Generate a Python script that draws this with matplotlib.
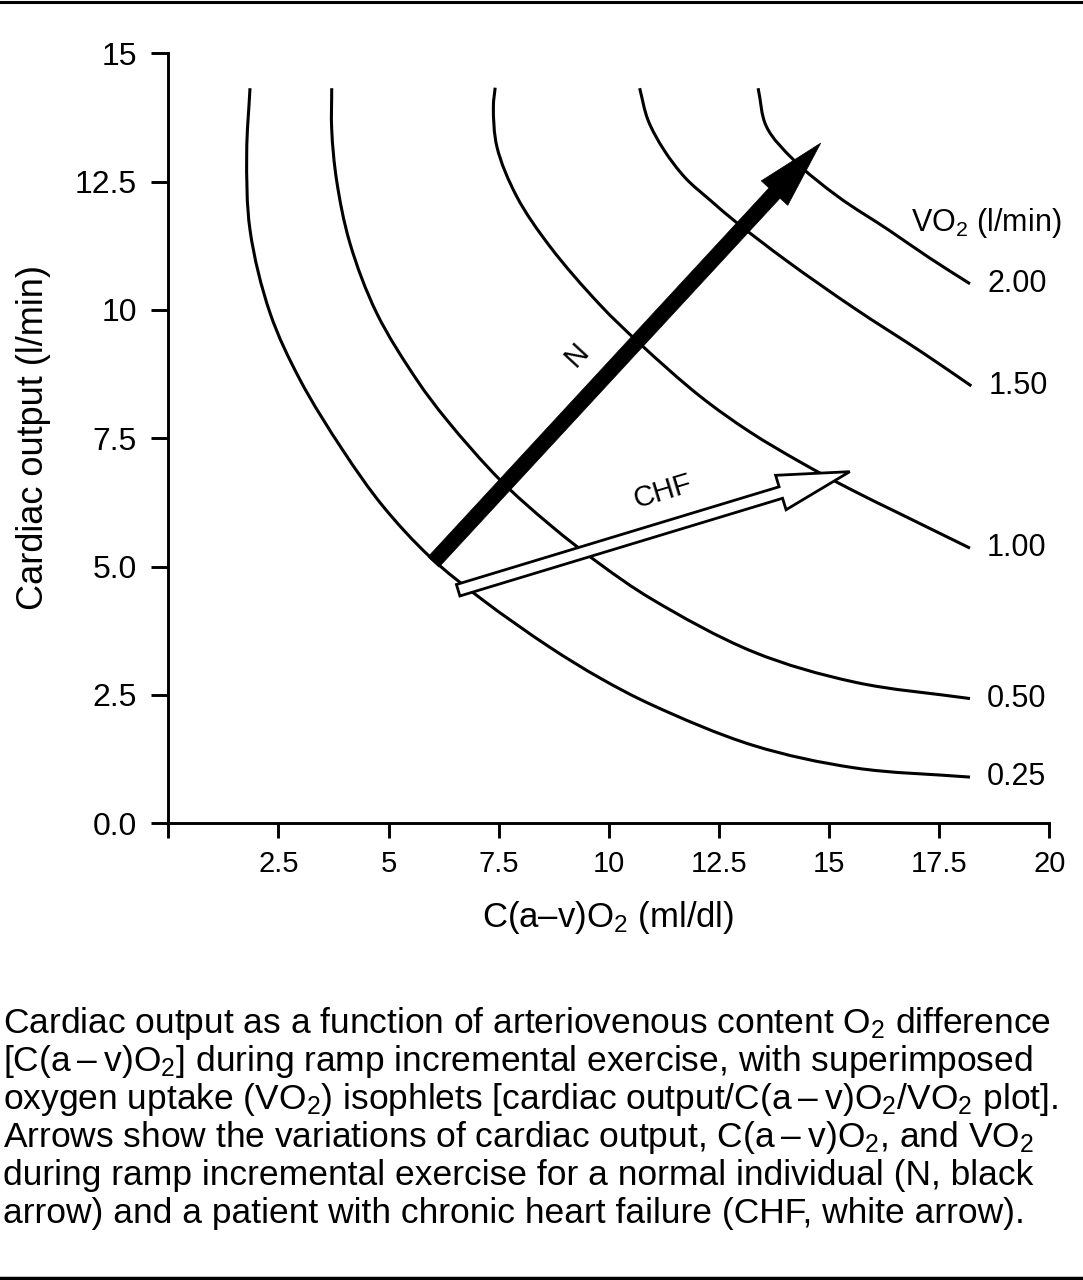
import matplotlib
matplotlib.use("Agg")
import matplotlib.pyplot as plt
import numpy as np
from matplotlib.patches import Polygon, PathPatch
from matplotlib.path import Path
from matplotlib.transforms import IdentityTransform
from matplotlib.lines import Line2D

plt.rcParams['font.family'] = ['Liberation Sans', 'DejaVu Sans']
plt.rcParams['mathtext.fontset'] = 'custom'
plt.rcParams['mathtext.rm'] = 'Liberation Sans'
plt.rcParams['mathtext.it'] = 'Liberation Sans:italic'
plt.rcParams['mathtext.bf'] = 'Liberation Sans:bold'

# ---------------- data ----------------
iso_labels = ["0.25", "0.50", "1.00", "1.50", "2.00"]

iso_025_x = [1.855, 1.78, 1.855, 2.31, 2.99, 3.96, 4.87, 5.94, 7.14, 8.66, 9.80, 10.97, 13.27, 15.58, 18.20]
iso_025_y = [14.32, 13.06, 11.56, 9.94, 8.64, 7.27, 6.18, 5.19, 4.35, 3.43, 2.83, 2.31, 1.52, 1.08, 0.90]

iso_050_x = [3.71, 3.71, 3.82, 4.12, 4.73, 5.64, 6.32, 7.53, 8.67, 9.80, 10.97, 13.28, 15.58, 18.20]
iso_050_y = [14.32, 13.51, 12.53, 11.31, 9.94, 8.64, 7.86, 6.69, 5.81, 5.05, 4.37, 3.34, 2.75, 2.43]

iso_100_x = [7.42, 7.38, 7.46, 7.91, 8.67, 9.80, 10.71, 12.07, 13.21, 14.34, 15.48, 16.61, 18.20]
iso_100_y = [14.33, 13.96, 13.18, 12.21, 11.23, 10.10, 9.34, 8.32, 7.62, 7.04, 6.51, 6.03, 5.36]

iso_150_x = [10.70, 10.89, 11.25, 11.74, 12.30, 12.89, 14.05, 15.58, 17.12, 18.23]
iso_150_y = [14.32, 13.70, 13.12, 12.57, 12.14, 11.71, 10.95, 10.03, 9.17, 8.52]

iso_200_x = [13.39, 13.58, 14.20, 15.20, 16.35, 17.27, 18.20]
iso_200_y = [14.32, 13.57, 12.92, 12.21, 11.56, 11.02, 10.51]

arrow_N_start = [6.02, 5.09]
arrow_N_end = [14.81, 13.25]
arrow_CHF_start = [6.58, 4.54]
arrow_CHF_end = [15.47, 6.85]

x_ticks = [0, 2.5, 5, 7.5, 10, 12.5, 15, 17.5, 20]
x_tick_labels = ["", "2.5", "5", "7.5", "10", "12.5", "15", "17.5", "20"]
y_ticks = [0, 2.5, 5, 7.5, 10, 12.5, 15]
y_tick_labels = ["0.0", "2.5", "5.0", "7.5", "10", "12.5", "15"]

DASH = "\u2009\u2013\u2009"
caption_lines = [
    r"Cardiac output as a function of arteriovenous content $\mathrm{O}_\mathrm{2}$ difference",
    r"[C(a" + DASH + r"v)$\mathrm{O}_\mathrm{2}$] during ramp incremental exercise, with superimposed",
    r"oxygen uptake (V$\mathrm{O}_\mathrm{2}$) isophlets [cardiac output/C(a" + DASH + r"v)$\mathrm{O}_\mathrm{2}$/V$\mathrm{O}_\mathrm{2}$ plot].",
    r"Arrows show the variations of cardiac output, C(a" + DASH + r"v)$\mathrm{O}_\mathrm{2}$, and V$\mathrm{O}_\mathrm{2}$",
    r"during ramp incremental exercise for a normal individual (N, black",
    r"arrow) and a patient with chronic heart failure (CHF, white arrow).",
]

# ---------------- figure ----------------
W, H = 1083, 1280
fig = plt.figure(figsize=(W / 100, H / 100), dpi=100)
fig.patch.set_facecolor("white")

x0, x1, y0, y1 = 168.3, 1049.3, 823.3, 53.3
ax = fig.add_axes([x0 / W, 1 - y0 / H, (x1 - x0) / W, (y0 - y1) / H])
ax.set_xlim(0, 20)
ax.set_ylim(0, 15)
for s in ["top", "right"]:
    ax.spines[s].set_visible(False)
for s in ["left", "bottom"]:
    ax.spines[s].set_linewidth(2.1)

ax.set_xticks(x_ticks)
ax.set_xticklabels(x_tick_labels, fontsize=21)
ax.set_yticks(y_ticks)
ax.set_yticklabels(y_tick_labels, fontsize=23)
ax.tick_params(axis="x", direction="out", length=10.5, width=2.1, pad=9)
ax.tick_params(axis="y", direction="out", length=12, width=2.1, pad=10.5)


def smooth_path(xs, ys, alpha=0.5):
    """Centripetal Catmull-Rom curve (as cubic Beziers) through the read points, in display space."""
    P = ax.transData.transform(np.column_stack([xs, ys]))
    P = np.vstack([2 * P[0] - P[1], P, 2 * P[-1] - P[-2]])
    verts = [P[1]]
    codes = [Path.MOVETO]
    for i in range(1, len(P) - 2):
        p0, p1, p2, p3 = P[i - 1], P[i], P[i + 1], P[i + 2]
        d1 = np.linalg.norm(p1 - p0) ** alpha
        d2 = np.linalg.norm(p2 - p1) ** alpha
        d3 = np.linalg.norm(p3 - p2) ** alpha
        b1 = (d1 ** 2 * p2 - d2 ** 2 * p0 + (2 * d1 ** 2 + 3 * d1 * d2 + d2 ** 2) * p1) / (3 * d1 * (d1 + d2))
        b2 = (d3 ** 2 * p1 - d2 ** 2 * p3 + (2 * d3 ** 2 + 3 * d3 * d2 + d2 ** 2) * p2) / (3 * d3 * (d3 + d2))
        verts += [b1, b2, p2]
        codes += [Path.CURVE4] * 3
    verts = ax.transData.inverted().transform(np.array(verts))
    return Path(verts, codes)


curves = [(iso_025_x, iso_025_y), (iso_050_x, iso_050_y), (iso_100_x, iso_100_y),
          (iso_150_x, iso_150_y), (iso_200_x, iso_200_y)]
for (cx, cy), lab in zip(curves, iso_labels):
    ax.add_patch(PathPatch(smooth_path(cx, cy), facecolor="none", edgecolor="black",
                           lw=2.2, capstyle="butt", zorder=2))
    ax.annotate(lab, xy=(cx[-1], cy[-1]), xytext=(17, 0), textcoords="offset pixels",
                ha="left", va="center", fontsize=22)

ax.text(16.85, 11.53, r"V$\mathrm{O}_\mathrm{2}$ (l/min)", fontsize=22, ha="left", va="baseline")


def arrow_polygon(start, end, shaft_w, head_w, head_l):
    p0 = ax.transData.transform(start)
    p1 = ax.transData.transform(end)
    d = p1 - p0
    u = d / np.hypot(*d)
    nrm = np.array([-u[1], u[0]])
    b = p1 - u * head_l
    pts = [p0 + nrm * shaft_w / 2, b + nrm * shaft_w / 2, b + nrm * head_w / 2, p1,
           b - nrm * head_w / 2, b - nrm * shaft_w / 2, p0 - nrm * shaft_w / 2]
    return np.array(pts), np.degrees(np.arctan2(d[1], d[0]))


ptsN, angN = arrow_polygon(arrow_N_start, arrow_N_end, 15, 36, 68)
ax.add_patch(Polygon(ptsN, closed=True, facecolor="black", edgecolor="black", lw=0.5,
                     transform=IdentityTransform(), zorder=5, clip_on=False))
ptsC, angC = arrow_polygon(arrow_CHF_start, arrow_CHF_end, 12, 36, 72)
ax.add_patch(Polygon(ptsC, closed=True, facecolor="white", edgecolor="black", lw=2.0,
                     joinstyle="miter", transform=IdentityTransform(), zorder=5, clip_on=False))

ax.text(9.27, 9.12, "N", fontsize=21, rotation=angN, ha="center", va="center",
        rotation_mode="anchor")
ax.text(11.23, 6.46, "CHF", fontsize=21, rotation=angC, ha="center", va="center",
        rotation_mode="anchor")

# axis labels
fig.text(34 / W, 1 - 437 / H, "Cardiac output (l/min)", rotation=90, fontsize=26,
         ha="center", va="center")
fig.text(608 / W, 1 - 926.7 / H, "C(a\u2013v)$\\mathrm{O}_\\mathrm{2}$ (ml/dl)", fontsize=25,
         ha="center", va="baseline")

# caption
baselines = [1032.7, 1070.8, 1108.9, 1147.0, 1185.2, 1223.3]
for line, yb in zip(caption_lines, baselines):
    fig.text(3 / W, 1 - yb / H, line, fontsize=25.5, ha="left", va="baseline")

# rules
fig.add_artist(Line2D([0, 1], [1 - 1.5 / H, 1 - 1.5 / H], color="black", lw=2.2,
                      transform=fig.transFigure))
fig.add_artist(Line2D([0, 1], [1 - 1278 / H, 1 - 1278 / H], color="black", lw=2.5,
                      transform=fig.transFigure))

fig.savefig("out.png", dpi=100, facecolor="white")
